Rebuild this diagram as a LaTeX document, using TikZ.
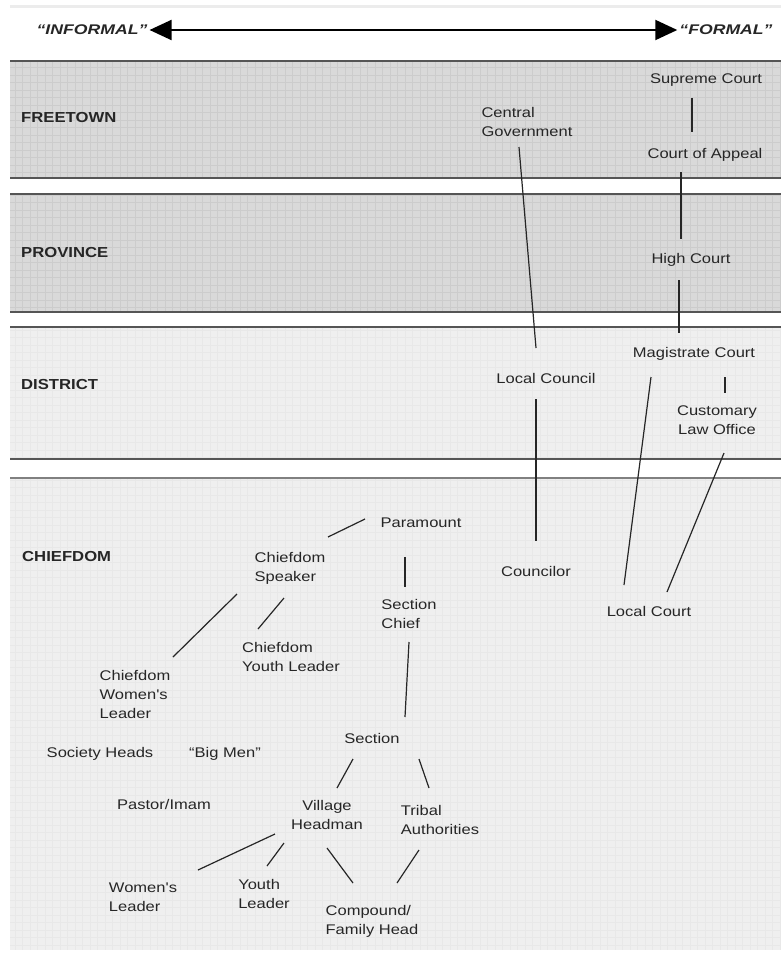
\documentclass[tikz,border=0pt]{standalone}
\usepackage{fontspec}
\setmainfont{Liberation Sans}
\newfontfamily\boxfont[FakeStretch=1.18]{Liberation Sans}
\newfontfamily\bandfont[FakeStretch=1.15]{Liberation Sans}
\newfontfamily\polefont[FakeStretch=1.26]{Liberation Sans}
\usepackage{tikz}
\usetikzlibrary{arrows.meta}
\definecolor{darkband}{HTML}{D9D9D9}
\definecolor{lightband}{HTML}{EFEFEF}
\definecolor{rule}{HTML}{555555}
\definecolor{ink}{HTML}{262626}

\begin{document}
\begin{tikzpicture}[x=1pt, y=-1pt,
  office/.style={font=\boxfont\fontsize{14}{19}\selectfont, text=ink, align=left, inner sep=0pt},
  level/.style={font=\bandfont\bfseries\fontsize{14.5}{17}\selectfont, text=ink, anchor=west, inner sep=0pt},
  pole/.style={font=\polefont\bfseries\itshape\fontsize{14}{17}\selectfont, text=ink, inner sep=2pt},
  link/.style={draw=ink, line width=1.2pt},
  band/.style={draw=rule, line width=1.8pt}]
    \useasboundingbox (0,0) rectangle (781,955);
    % bands
    \draw[line width=3pt, gray!15] (10,7) -- (781,7);
    \fill[darkband] (10,61) rectangle (781,178);
    \fill[darkband] (10,194) rectangle (781,312);
    \fill[lightband] (10,327) rectangle (781,459);
    \fill[lightband] (10,478) rectangle (781,950);
    \draw[black!20, line width=0.3pt, step=7.5pt] (10,178) grid (781,61) (10,312) grid (781,194);
    \draw[black!9, line width=0.3pt, step=7.5pt] (10,459) grid (781,327) (10,950) grid (781,478);
    \draw[band] (10,61) -- (781,61) (10,178) -- (781,178) (10,194) -- (781,194)
      (10,312) -- (781,312) (10,327) -- (781,327) (10,459) -- (781,459);
    \draw[band, draw=rule!75] (10,478) -- (781,478);

    \node[pole] (informal) at (92,30) {“INFORMAL”};
    \node[pole] (formal) at (726,30) {“FORMAL”};
    \draw[draw=black, line width=2pt, {Triangle[length=22pt,width=20pt]}-{Triangle[length=22pt,width=20pt]}]
      (informal.east) -- (formal.west);

    \node[level] (freetown) at (21,118) {FREETOWN};
    \node[level] (province) at (21,253) {PROVINCE};
    \node[level] (district) at (21,385) {DISTRICT};
    \node[level] (chiefdom) at (22,557) {CHIEFDOM};

    \node[office] (supreme) at (706,80) {Supreme Court};
    \node[office] (centralgov) at (527,122) {Central\\Government};
    \node[office] (appeal) at (705,155) {Court of Appeal};
    \node[office] (high) at (691,260) {High Court};
    \node[office] (magistrate) at (694,354) {Magistrate Court};
    \node[office] (localcouncil) at (546,378) {Local Council};
    \node[office, align=center] (customary) at (717,420) {Customary\\Law Office};
    \node[office] (paramount) at (421,523) {Paramount};
    \node[office] (speaker) at (290,568) {Chiefdom\\Speaker};
    \node[office] (councilor) at (536,571) {Councilor};
    \node[office] (localcourt) at (649,611) {Local Court};
    \node[office] (sectionchief) at (409,614) {Section\\Chief};
    \node[office] (cyouth) at (291,657) {Chiefdom\\Youth Leader};
    \node[office] (cwomen) at (135,694) {Chiefdom\\Women's\\Leader};
    \node[office] (section) at (372,738) {Section};
    \node[office] (society) at (100,754) {Society Heads};
    \node[office] (bigmen) at (225,754) {“Big Men”};
    \node[office] (pastor) at (164,804) {Pastor/Imam};
    \node[office, align=center] (headman) at (327,815) {Village\\Headman};
    \node[office] (tribal) at (440,820) {Tribal\\Authorities};
    \node[office] (women) at (143,897) {Women's\\Leader};
    \node[office] (youth) at (264,894) {Youth\\Leader};
    \node[office] (compound) at (372,921) {Compound/\\Family Head};

    \draw[link] ([shift={(-14,18)}]supreme.center) -- ([shift={(-13,-23)}]appeal.center);
    \draw[link] ([shift={(-24,17)}]appeal.center) -- ([shift={(-10,-21)}]high.center);
    \draw[link] ([shift={(-12,20)}]high.center) -- ([shift={(-15,-21)}]magistrate.center);
    \draw[link] ([shift={(-8,25)}]centralgov.center) -- ([shift={(-10,-30)}]localcouncil.center);
    \draw[link] ([shift={(31,23)}]magistrate.center) -- ([shift={(8,-27)}]customary.center);
    \draw[link] ([shift={(-10,21)}]localcouncil.center) -- ([shift={(0,-30)}]councilor.center);
    \draw[link] ([shift={(-43,23)}]magistrate.center) -- ([shift={(-25,-26)}]localcourt.center);
    \draw[link] ([shift={(7,33)}]customary.center) -- ([shift={(18,-19)}]localcourt.center);
    \draw[link] ([shift={(-56,-4)}]paramount.center) -- ([shift={(38,-31)}]speaker.center);
    \draw[link] ([shift={(-16,34)}]paramount.center) -- ([shift={(-4,-27)}]sectionchief.center);
    \draw[link] ([shift={(-53,26)}]speaker.center) -- ([shift={(38,-37)}]cwomen.center);
    \draw[link] ([shift={(-6,30)}]speaker.center) -- ([shift={(-33,-28)}]cyouth.center);
    \draw[link] ([shift={(0,28)}]sectionchief.center) -- ([shift={(33,-21)}]section.center);
    \draw[link] ([shift={(-19,21)}]section.center) -- ([shift={(10,-27)}]headman.center);
    \draw[link] ([shift={(47,21)}]section.center) -- ([shift={(-11,-32)}]tribal.center);
    \draw[link] ([shift={(-52,19)}]headman.center) -- ([shift={(55,-27)}]women.center);
    \draw[link] ([shift={(-43,28)}]headman.center) -- ([shift={(3,-28)}]youth.center);
    \draw[link] ([shift={(0,33)}]headman.center) -- ([shift={(-19,-38)}]compound.center);
    \draw[link] ([shift={(-21,30)}]tribal.center) -- ([shift={(25,-38)}]compound.center);
\end{tikzpicture}
\end{document}
